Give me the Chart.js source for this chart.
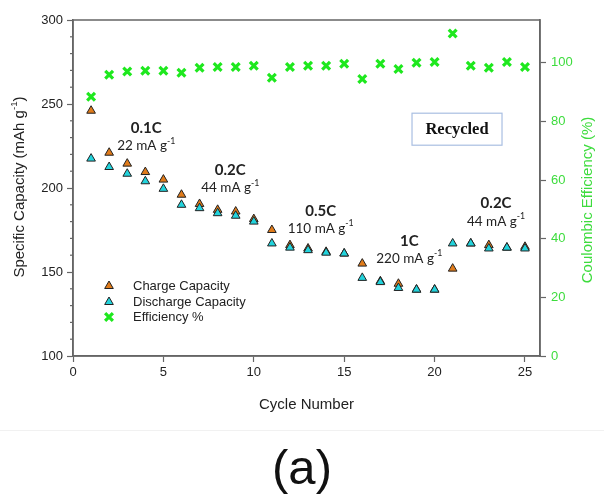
<!DOCTYPE html>
<html>
<head>
<meta charset="utf-8">
<script src="https://cdn.jsdelivr.net/npm/chart.js@4.4.0/dist/chart.umd.min.js"></script>
<style>
  html, body { margin: 0; padding: 0; background: #fff; }
  canvas { display: block; }
</style>
</head>
<body>
<canvas id="myChart" width="604" height="495"></canvas>
<script>
// values
const cycles = [1, 2, 3, 4, 5, 6, 7, 8, 9, 10, 11, 12, 13, 14, 15, 16, 17, 18, 19, 20, 21, 22, 23, 24, 25];
const charge = [246, 221, 214.5, 209.5, 205, 196, 190.5, 187, 186, 181.5, 175, 166, 164, 162, 161, 155, 144.5, 143, 139.5, 139.5, 152, 167, 166, 164.5, 165];
const discharge = [217.5, 212.5, 208.5, 204, 199.5, 190, 188, 185, 183.5, 180, 167, 164.5, 163, 161.5, 161, 146.5, 144, 140.5, 139.5, 139.5, 167, 167, 164, 164.5, 164];
const efficiency = [88.4, 95.9, 97, 97.3, 97.3, 96.6, 98.3, 98.6, 98.6, 99, 94.9, 98.6, 99, 99, 99.7, 94.5, 99.7, 97.9, 100, 100.3, 110, 99, 98.3, 100.3, 98.6];

const xTicks = [0, 5, 10, 15, 20, 25];
const capTicks = [100, 150, 200, 250, 300];
const capMinor = [110, 120, 130, 140, 160, 170, 180, 190, 210, 220, 230, 240, 260, 270, 280, 290];
const effTicks = [0, 20, 40, 60, 80, 100];

const rateLabels = ['0.1C', '0.2C', '0.5C', '1C', '0.2C'];
const currentLabels = ['22', '44', '110', '220', '44'];

// where the rate notes sit, in axis units
const notePos = [
  { x: 4.05, y: 235.5, cy: 225 },
  { x: 8.7, y: 210.5, cy: 200 },
  { x: 13.7, y: 186, cy: 176 },
  { x: 18.6, y: 168.5, cy: 158 },
  { x: 23.4, y: 191, cy: 180 }
];

const pts = arr => cycles.map((c, i) => ({ x: c, y: arr[i] }));

function drawParts(ctx, parts, cx, cy, size, family, weight, color) {
  // parts: [text, isSup]
  ctx.fillStyle = color;
  ctx.textBaseline = 'middle';
  ctx.textAlign = 'left';
  let widths = parts.map(p => {
    const s = p[1] ? size * 0.65 : size;
    ctx.font = weight + ' ' + s + 'px ' + family;
    return ctx.measureText(p[0]).width;
  });
  let total = widths.reduce((a, b) => a + b, 0);
  let px = cx - total / 2;
  parts.forEach((p, i) => {
    const s = p[1] ? size * 0.65 : size;
    ctx.font = weight + ' ' + s + 'px ' + family;
    ctx.fillText(p[0], px, p[1] ? cy - size * 0.38 : cy);
    px += widths[i];
  });
}

const decor = {
  id: 'decor',
  afterDraw(chart) {
    const { ctx, chartArea: a, scales } = chart;
    const x = scales.x, y = scales.y;
    ctx.save();

    // frame
    ctx.strokeStyle = '#666';
    ctx.lineWidth = 1.5;
    ctx.strokeRect(a.left, a.top, a.right - a.left, a.bottom - a.top);

    // minor ticks on left axis
    ctx.lineWidth = 1.2;
    capMinor.forEach(v => {
      const py = y.getPixelForValue(v);
      ctx.beginPath();
      ctx.moveTo(a.left - 3, py);
      ctx.lineTo(a.left, py);
      ctx.stroke();
    });

    // axis titles
    ctx.save();
    ctx.translate(20, (a.top + a.bottom) / 2 - 1);
    ctx.rotate(-Math.PI / 2);
    drawParts(ctx, [['Specific Capacity (mAh g', false], ['-1', true], [')', false]], 0, 0, 15, '"Liberation Sans", Arial', 'normal', '#222');
    ctx.restore();

    ctx.save();
    ctx.translate(588, 200);
    ctx.rotate(-Math.PI / 2);
    drawParts(ctx, [['Coulombic Efficiency (%)', false]], 0, 0, 15, '"Liberation Sans", Arial', 'normal', '#3ddc3d');
    ctx.restore();

    // rate notes
    rateLabels.forEach((r, i) => {
      const p = notePos[i];
      drawParts(ctx, [[r, false]], x.getPixelForValue(p.x), y.getPixelForValue(p.y), 15, 'Lato', 'bold', '#222');
      drawParts(ctx, [[currentLabels[i] + ' mA g', false], ['-1', true]], x.getPixelForValue(p.x), y.getPixelForValue(p.cy), 13.5, 'Lato', 'normal', '#222');
    });

    // "Recycled" box
    const bx = x.getPixelForValue(21.24), by = y.getPixelForValue(235);
    ctx.strokeStyle = '#a9bfe2';
    ctx.lineWidth = 1.2;
    ctx.strokeRect(bx - 45, by - 16, 90, 32);
    drawParts(ctx, [['Recycled', false]], bx, by + 1, 16.5, '"Liberation Serif", "Times New Roman"', 'bold', '#111');

    // legend
    const rows = [286, 302, 317];
    chart.data.datasets.forEach((ds, i) => {
      ctx.fillStyle = ds.backgroundColor;
      ctx.strokeStyle = ds.borderColor;
      ctx.lineWidth = ds.borderWidth;
      Chart.helpers.drawPoint(ctx, { pointStyle: ds.pointStyle, radius: ds.pointRadius, borderWidth: ds.borderWidth, rotation: 0 }, 109, rows[i]);
      ctx.fillStyle = '#222';
      ctx.font = '13px "Liberation Sans", Arial';
      ctx.textAlign = 'left';
      ctx.textBaseline = 'middle';
      ctx.fillText(ds.label, 133, rows[i]);
    });

    // faint separator under the plot
    ctx.strokeStyle = '#f1f1f1';
    ctx.lineWidth = 1;
    ctx.beginPath();
    ctx.moveTo(0, 430.5);
    ctx.lineTo(604, 430.5);
    ctx.stroke();

    ctx.restore();
  }
};

const axisFont = { family: '"Liberation Sans", Arial', size: 13 };

new Chart(document.getElementById('myChart'), {
  type: 'scatter',
  data: {
    datasets: [
      {
        label: 'Charge Capacity',
        data: pts(charge),
        yAxisID: 'y',
        pointStyle: 'triangle',
        pointRadius: 5,
        backgroundColor: '#e07b1a',
        borderColor: '#222',
        borderWidth: 1,
        order: 1
      },
      {
        label: 'Discharge Capacity',
        data: pts(discharge),
        yAxisID: 'y',
        pointStyle: 'triangle',
        pointRadius: 5,
        backgroundColor: '#22d3dc',
        borderColor: '#222',
        borderWidth: 1,
        order: 0
      },
      {
        label: 'Efficiency %',
        data: pts(efficiency),
        yAxisID: 'y1',
        pointStyle: 'crossRot',
        pointRadius: 5.5,
        backgroundColor: '#1ee81e',
        borderColor: '#1ee81e',
        borderWidth: 3.2,
        order: 2
      }
    ]
  },
  options: {
    responsive: false,
    animation: false,
    events: [],
    layout: { padding: { top: 20, left: 0, right: 0, bottom: 0 } },
    plugins: {
      legend: { display: false },
      tooltip: { enabled: false },
      title: {
        display: true,
        position: 'bottom',
        text: '(a)',
        color: '#111',
        font: { family: '"Liberation Sans", Arial', size: 49, weight: 'normal', lineHeight: 1 },
        padding: { top: 30, bottom: 0 }
      }
    },
    scales: {
      x: {
        type: 'linear',
        min: 0,
        max: 25.83,
        afterBuildTicks: s => { s.ticks = xTicks.map(v => ({ value: v })); },
        afterFit: s => { s.height = 60; },
        ticks: { color: '#222', font: axisFont, padding: 3 },
        grid: { drawOnChartArea: false, tickLength: 6, color: '#666', tickWidth: 1.2 },
        border: { color: '#666', width: 1.5 },
        title: {
          display: true,
          text: 'Cycle Number',
          color: '#222',
          font: { family: '"Liberation Sans", Arial', size: 15 },
          padding: { top: 0, bottom: 2 }
        }
      },
      y: {
        position: 'left',
        min: 100,
        max: 300,
        afterBuildTicks: s => { s.ticks = capTicks.map(v => ({ value: v })); },
        afterFit: s => { s.width = 73; },
        ticks: { color: '#222', font: axisFont, padding: 4 },
        grid: { drawOnChartArea: false, tickLength: 6, color: '#666', tickWidth: 1.2 },
        border: { color: '#666', width: 1.5 }
      },
      y1: {
        position: 'right',
        min: 0,
        max: 114.6,
        afterBuildTicks: s => { s.ticks = effTicks.map(v => ({ value: v })); },
        afterFit: s => { s.width = 64; },
        ticks: { color: '#3ddc3d', font: axisFont, padding: 5 },
        grid: { drawOnChartArea: false, tickLength: 6, color: '#666', tickWidth: 1.2 },
        border: { color: '#666', width: 1.5 }
      }
    }
  },
  plugins: [decor]
});
</script>
</body>
</html>
